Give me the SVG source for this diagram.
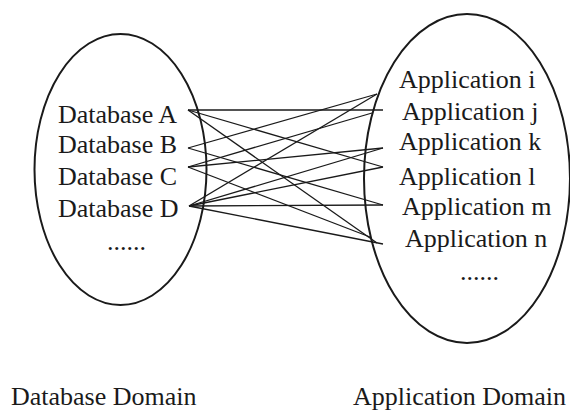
<svg xmlns="http://www.w3.org/2000/svg" width="570" height="412" viewBox="0 0 570 412">
<style>
text{font-family:"Liberation Serif","Times New Roman",serif;font-size:26px;fill:#1a1a1a}
.dom{fill:none;stroke:#1a1a1a;stroke-width:2}
.ln line{stroke:#1a1a1a;stroke-width:1.3}
</style>
<rect width="570" height="412" fill="#fff"/>
<g id="database-domain">
<ellipse class="dom" cx="120.5" cy="169.5" rx="86" ry="135.5"/>
<text x="11" y="405">Database Domain</text>
</g>
<g id="application-domain">
<ellipse class="dom" cx="467" cy="178.5" rx="103" ry="164.5"/>
<text x="353" y="405">Application Domain</text>
</g>
<g id="db-a"><text x="58" y="123">Database A</text></g>
<g id="db-b"><text x="58" y="153">Database B</text></g>
<g id="db-c"><text x="58" y="185">Database C</text></g>
<g id="db-d"><text x="58" y="217">Database D</text></g>
<g id="db-more"><text x="107" y="250">......</text></g>
<g id="app-i"><text x="399" y="88">Application i</text></g>
<g id="app-j"><text x="402" y="120">Application j</text></g>
<g id="app-k"><text x="399" y="150">Application k</text></g>
<g id="app-l"><text x="399" y="185">Application l</text></g>
<g id="app-m"><text x="402" y="215">Application m</text></g>
<g id="app-n"><text x="405" y="247">Application n</text></g>
<g id="app-more"><text x="460" y="280">......</text></g>
<g id="connectors" class="ln">
<line x1="188" y1="110" x2="383" y2="110"/>
<line x1="188" y1="110" x2="383" y2="167"/>
<line x1="188" y1="110" x2="377" y2="243"/>
<line x1="188" y1="148" x2="377" y2="94"/>
<line x1="188" y1="148" x2="383" y2="205"/>
<line x1="188" y1="167" x2="372" y2="113"/>
<line x1="188" y1="167" x2="383" y2="148"/>
<line x1="188" y1="167" x2="370" y2="237"/>
<line x1="189" y1="206" x2="377" y2="94"/>
<line x1="189" y1="206" x2="383" y2="148"/>
<line x1="189" y1="206" x2="383" y2="167"/>
<line x1="189" y1="206" x2="383" y2="205"/>
<line x1="189" y1="206" x2="383" y2="244"/>
</g>
</svg>
